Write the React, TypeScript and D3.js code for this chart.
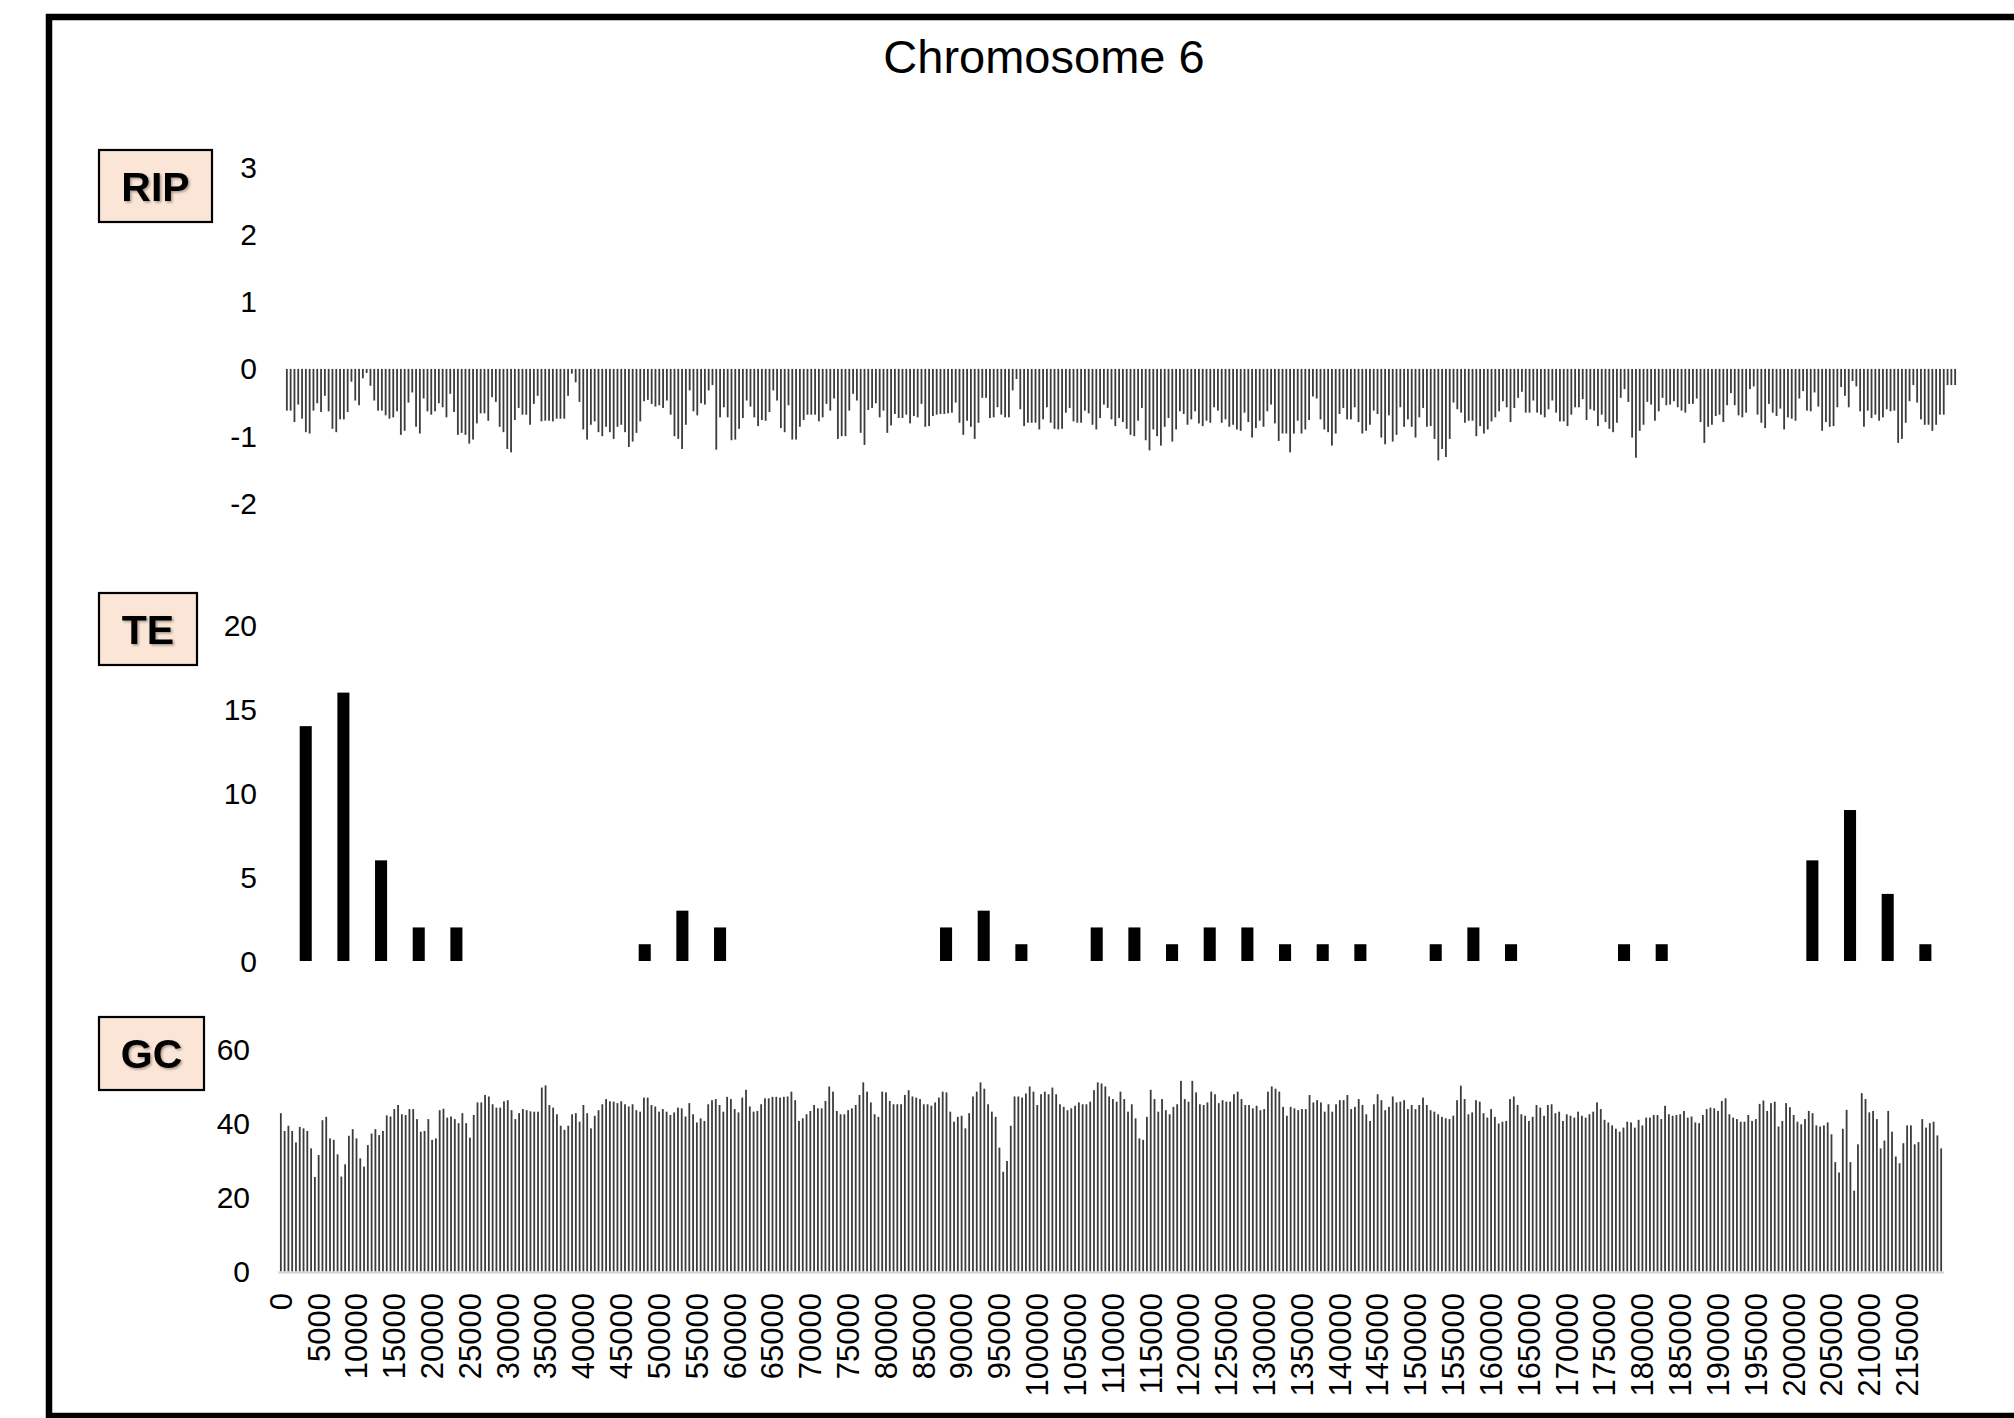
import React from 'react';
import * as d3 from 'd3';

// ---- DATA ----
const chartTitle = 'Chromosome 6';
const panelNames = ['RIP', 'TE', 'GC'];
const windowSize = 500; // bp per RIP / GC window
const teBinSize = 5000; // bp per TE bin

const ripTicks = [3, 2, 1, 0, -1, -2];
const teTicks = [0, 5, 10, 15, 20];
const gcTicks = [0, 20, 40, 60];

const ripPart1 = [
  -0.62,-0.62,-0.79,-0.53,-0.74,-0.94,-0.96,-0.62,-0.51,-0.64,
  -0.40,-0.63,-0.89,-0.94,-0.75,-0.75,-0.64,-0.19,-0.47,-0.54,
  -0.14,-0.06,-0.25,-0.47,-0.62,-0.62,-0.69,-0.74,-0.72,-0.63,
  -0.98,-0.92,-0.50,-0.35,-0.86,-0.96,-0.44,-0.63,-0.68,-0.63,
  -0.51,-0.57,-0.72,-0.37,-0.64,-0.98,-0.95,-0.98,-1.11,-1.05,
  -0.81,-0.66,-0.66,-0.77,-0.42,-0.49,-0.86,-0.94,-1.19,-1.24,
  -0.76,-0.58,-0.68,-0.68,-0.83,-0.52,-0.40,-0.78,-0.77,-0.77,
  -0.78,-0.74,-0.74,-0.74,-0.40,-0.07,-0.20,-0.49,-0.90,-1.05,
  -0.83,-0.78,-0.94,-1.00,-0.86,-0.94,-1.04,-0.86,-0.83,-0.94,
  -1.16,-1.08,-0.95,-0.78,-0.48,-0.46,-0.52,-0.56,-0.54,-0.58,
  -0.47,-0.68,-1.00,-1.04,-1.19,-0.83,-0.32,-0.63,-0.69,-0.51,
  -0.53,-0.32,-0.24,-1.20,-0.72,-0.57,-0.72,-1.06,-1.05,-0.89,
  -0.73,-0.47,-0.56,-0.72,-0.85,-0.76,-0.77,-0.64,-0.32,-0.47,
  -0.88,-0.94,-0.54,-1.05,-1.05,-0.86,-0.76,-0.68,-0.68,-0.68,
  -0.78,-0.72,-0.52,-0.62,-0.44,-1.04,-1.00,-1.00,-0.62,-0.37,
  -0.47,-0.95,-1.13,-0.61,-0.58,-0.51,-0.72,-0.62,-0.95,-0.84,
  -0.67,-0.73,-0.73,-0.68,-0.81,-0.70,-0.72,-0.52,-0.86,-0.85,
  -0.70,-0.68,-0.67,-0.67,-0.66,
];
const ripPart2 = [
  -0.65,-0.50,-0.80,-0.98,-0.77,-0.86,-1.04,-0.80,-0.43,
  -0.43,-0.73,-0.72,-0.57,-0.68,-0.72,-0.72,-0.32,-0.15,-0.60,
  -0.85,-0.80,-0.80,-0.80,-0.90,-0.75,-0.57,-0.80,-0.89,-0.90,
  -0.89,-0.65,-0.58,-0.78,-0.80,-0.80,-0.62,-0.66,-0.83,-0.90,
  -0.73,-0.53,-0.58,-0.75,-0.85,-0.73,-0.79,-0.89,-0.98,-1.00,
  -0.77,-0.58,-1.06,-1.21,-0.90,-1.00,-1.14,-0.86,-0.73,-1.08,
  -0.90,-0.63,-0.67,-0.83,-0.75,-0.63,-0.81,-0.85,-0.77,-0.80,
  -0.57,-0.62,-0.80,-0.75,-0.86,-0.83,-0.90,-0.92,-0.65,-0.79,
  -1.02,-0.88,-0.77,-0.86,-0.63,-0.53,-0.81,-1.07,-0.96,-0.96,
  -1.24,-0.96,-0.77,-0.96,-0.90,-0.76,-0.41,-0.44,-0.75,-0.90,
  -0.94,-1.14,-0.96,-0.67,-0.58,-0.75,-0.75,-0.57,-0.79,-0.96,
  -0.92,-0.83,-0.62,-0.67,-1.02,-1.12,-0.69,-1.08,-0.98,-0.57,
  -0.86,-0.75,-0.86,-1.02,-0.72,-0.58,-0.86,-0.85,-1.04,-1.36,
  -1.19,-1.31,-1.04,-0.50,-0.60,-0.65,-0.80,-0.77,-0.77,-1.00,
  -0.85,-0.96,-0.90,-0.78,-0.72,-0.63,-0.48,-0.57,-0.79,-0.58,
  -0.43,-0.34,-0.65,-0.65,-0.47,-0.65,-0.68,-0.72,-0.60,-0.47,
  -0.65,-0.78,-0.78,-0.85,-0.68,-0.57,-0.57,-0.45,-0.76,-0.60,
  -0.62,-0.85,-0.68,-0.79,-0.89,-0.94,-0.80,-0.43,-0.30,-0.49,
  -1.02,-1.32,-0.92,-0.83,-0.49,
];
const ripPart3 = [
  -0.53,-0.77,-0.63,-0.43,-0.54,-0.53,-0.48,-0.57,-0.62,
  -0.65,-0.52,-0.52,-0.44,-0.79,-1.10,-0.86,-0.83,-0.70,-0.68,
  -0.79,-0.54,-0.36,-0.54,-0.69,-0.72,-0.65,-0.30,-0.26,-0.68,
  -0.80,-0.88,-0.52,-0.65,-0.70,-0.59,-0.90,-0.72,-0.74,-0.77,
  -0.44,-0.33,-0.62,-0.63,-0.35,-0.56,-0.92,-0.79,-0.86,-0.85,
  -0.57,-0.27,-0.40,-0.57,-0.18,-0.26,-0.63,-0.86,-0.62,-0.73,
  -0.68,-0.77,-0.72,-0.60,-0.63,-0.62,-1.10,-1.04,-0.80,-0.48,
  -0.24,-0.50,-0.75,-0.83,-0.83,-0.92,-0.83,-0.68,-0.68,-0.24,
  -0.24,-0.24,
];

const teCounts = [
  14, 16, 6, 2, 2, 0, 0, 0, 0, 1,
  3, 2, 0, 0, 0, 0, 0, 2, 3, 1,
  0, 2, 2, 1, 2, 2, 1, 1, 1, 0,
  1, 2, 1, 0, 0, 1, 1, 0, 0, 0,
  6, 9, 4, 1,
];

const gcPart1 = [
  42.7,37.9,39.3,37.9,34.8,39.0,38.6,37.9,33.2,25.5,
  31.4,40.8,41.7,35.9,35.5,31.6,25.6,28.9,36.6,38.4,
  35.9,30.5,28.3,34.1,37.2,38.4,36.8,37.9,42.1,41.8,
  43.8,44.9,42.4,42.2,43.8,43.8,41.1,37.7,37.9,41.1,
  35.5,35.9,43.5,43.9,41.5,41.8,41.1,40.0,42.7,40.0,
  36.1,42.2,45.6,45.6,47.6,47.2,45.1,44.2,44.2,45.9,
  46.2,43.5,41.1,42.7,43.8,43.5,43.2,43.1,43.1,49.6,
  50.2,44.9,44.2,42.4,39.3,38.2,39.3,42.4,42.7,40.4,
  44.9,42.7,38.6,42.0,43.5,45.1,46.5,45.9,45.8,45.4,
  45.9,45.1,44.5,45.1,43.5,43.1,46.9,46.9,44.9,44.5,
  43.1,43.8,43.1,42.2,42.9,44.2,44.0,41.8,45.4,42.4,
  40.2,41.3,40.6,45.1,46.2,46.5,44.9,43.1,47.1,46.5,
  43.8,42.9,46.9,49.0,44.5,43.1,43.3,45.1,46.7,46.7,
  47.1,47.1,46.9,47.1,47.2,48.5,46.2,40.6,41.3,42.4,
  43.3,44.9,44.0,44.0,46.0,49.9,48.5,43.3,42.4,42.4,
  43.5,44.0,44.9,47.6,51.0,48.5,45.6,42.4,41.7,48.5,
  48.3,46.0,45.1,45.1,
];
const gcPart2 = [
  45.1,47.6,48.9,47.2,46.9,46.5,45.1,45.1,44.7,45.6,
  46.9,48.5,48.3,43.1,40.4,41.7,42.0,38.6,42.7,47.2,
  48.5,51.0,49.3,45.1,43.1,41.7,33.4,26.9,29.8,39.3,
  47.2,47.2,46.9,48.0,49.9,48.5,44.9,47.8,48.5,47.8,
  49.6,47.8,45.1,44.4,43.5,44.0,44.7,45.6,45.1,45.1,
  45.8,48.9,51.0,50.7,49.9,47.2,46.5,45.8,48.5,46.5,
  43.1,45.1,41.3,35.9,35.5,41.7,49.0,46.5,43.1,46.5,
  43.5,42.4,44.4,45.1,51.4,46.5,45.8,51.4,48.3,45.1,
  44.9,45.6,48.5,47.8,45.4,46.2,45.8,45.8,47.8,48.5,
  46.5,44.9,44.9,44.0,44.7,43.5,43.8,48.5,49.9,49.3,
  48.5,44.4,42.0,44.4,44.0,43.5,43.8,43.8,47.6,45.6,
  46.2,45.6,43.1,45.1,43.1,45.1,46.2,46.2,47.6,43.8,
  44.4,46.5,44.9,42.4,40.6,45.1,47.8,46.2,43.5,44.4,
  47.2,45.6,45.8,46.2,43.8,44.9,43.8,44.9,46.9,44.9,
  43.5,43.1,42.4,41.7,41.3,41.1,42.0,46.2,50.1,46.5,
  42.4,42.9,46.2,45.8,42.7,41.5,43.8,41.7,39.9,40.4,
  40.6,46.5,47.2,44.9,42.4,42.0,40.6,41.7,44.9,44.2,
  42.0,44.9,45.1,42.7,43.1,40.6,42.4,42.0,41.5,43.1,
  42.0,41.5,42.4,43.1,45.6,
];
const gcPart3 = [
  43.8,40.9,40.2,39.4,38.5,37.7,38.8,40.4,40.2,38.8,
  40.9,39.4,41.5,41.5,42.2,42.2,41.1,44.7,42.4,42.0,
  42.2,42.4,43.3,41.5,41.8,40.2,40.0,42.2,43.8,44.2,
  44.0,43.3,46.0,46.7,42.4,41.5,41.1,40.4,40.4,42.2,
  40.6,41.1,45.2,46.1,43.3,45.4,45.8,39.1,40.6,45.4,
  44.3,42.2,40.4,39.7,41.1,43.3,42.7,39.4,39.1,39.4,
  40.2,37.0,29.5,26.7,38.5,43.6,29.5,21.8,34.3,48.1,
  46.5,42.9,43.3,41.1,33.2,35.3,43.3,37.7,31.0,29.2,
  34.6,39.4,39.4,34.3,34.9,41.1,38.8,40.0,40.4,36.7,
  33.2,
];

const ripValues = [...ripPart1, ...ripPart2, ...ripPart3];
const gcValues = [...gcPart1, ...gcPart2, ...gcPart3];

const FONT = '"Liberation Sans", Arial, "DejaVu Sans", sans-serif';

export default function App() {
  const W = 2014;
  const H = 1418;

  // RIP panel
  const xRip = d3
    .scaleBand<number>()
    .domain(d3.range(ripValues.length))
    .range([284, 1958])
    .padding(0.5);
  const yRip = d3.scaleLinear().domain([-2, 3]).range([503.5, 167]);

  // TE panel
  const xTe = d3
    .scaleBand<number>()
    .domain(d3.range(teCounts.length))
    .range([286.9, 1944.2])
    .paddingInner(0.68)
    .paddingOuter(0.34);
  const yTe = d3.scaleLinear().domain([0, 20]).range([961, 625.5]);

  // GC panel
  const xGc = d3
    .scaleBand<number>()
    .domain(d3.range(gcValues.length))
    .range([278, 1944])
    .padding(0.5);
  const yGc = d3.scaleLinear().domain([0, 60]).range([1271.5, 1049]);

  const labelStep = teBinSize / windowSize;
  const xLabelIdx = d3.range(0, gcValues.length - 9, labelStep);

  const barW = 1.8;
  const barColor = '#3c3c3c';
  const tickFont = 30;

  const boxes = [
    { name: panelNames[0], x: 99, y: 150, w: 113, h: 72 },
    { name: panelNames[1], x: 99, y: 593, w: 98, h: 72 },
    { name: panelNames[2], x: 99, y: 1017, w: 105, h: 73 },
  ];

  return (
    <svg
      width={W}
      height={H}
      viewBox={`0 0 ${W} ${H}`}
      style={{ position: 'absolute', left: 0, top: 0, background: '#fff' }}
      fontFamily={FONT}
    >
      <defs>
        <filter id="txtShadow" x="-20%" y="-20%" width="140%" height="140%">
          <feDropShadow dx="1.5" dy="1.5" stdDeviation="1.2" floodColor="#000" floodOpacity="0.35" />
        </filter>
      </defs>
      <rect x={0} y={0} width={W} height={H} fill="#fff" />
      {/* outer frame */}
      <rect x={49} y={17} width={2100} height={1399} fill="none" stroke="#000" strokeWidth={6.5} />

      {/* title */}
      <text x={1044} y={73} textAnchor="middle" fontSize={47} fill="#000">
        {chartTitle}
      </text>

      {/* label boxes */}
      {boxes.map((b) => (
        <g key={b.name}>
          <rect x={b.x} y={b.y} width={b.w} height={b.h} fill="#FBE5D6" stroke="#000" strokeWidth={2.2} />
          <text
            x={b.x + b.w / 2}
            y={b.y + b.h / 2}
            dy="0.36em"
            textAnchor="middle"
            fontWeight="bold"
            fontSize={41}
            fill="#000"
            filter="url(#txtShadow)"
          >
            {b.name}
          </text>
        </g>
      ))}

      {/* RIP */}
      {ripTicks.map((t) => (
        <text key={'rt' + t} x={257} y={yRip(t)} dy="0.35em" textAnchor="end" fontSize={tickFont} fill="#000">
          {t}
        </text>
      ))}
      {ripValues.map((v, i) => {
        const cx = (xRip(i) as number) + xRip.bandwidth() / 2;
        const y0 = yRip(0);
        const y1 = yRip(v);
        return (
          <rect key={'r' + i} x={cx - barW / 2} y={Math.min(y0, y1)} width={barW} height={Math.abs(y1 - y0)} fill={barColor} />
        );
      })}

      {/* TE */}
      {teTicks.map((t) => (
        <text key={'tt' + t} x={257} y={yTe(t)} dy="0.35em" textAnchor="end" fontSize={tickFont} fill="#000">
          {t}
        </text>
      ))}
      {teCounts.map((v, i) =>
        v > 0 ? (
          <rect
            key={'t' + i}
            x={xTe(i) as number}
            y={yTe(v)}
            width={xTe.bandwidth()}
            height={yTe(0) - yTe(v)}
            fill="#000"
          />
        ) : null
      )}

      {/* GC */}
      {gcTicks.map((t) => (
        <text key={'gt' + t} x={250} y={yGc(t)} dy="0.35em" textAnchor="end" fontSize={tickFont} fill="#000">
          {t}
        </text>
      ))}
      {gcValues.map((v, i) => {
        const cx = (xGc(i) as number) + xGc.bandwidth() / 2;
        return (
          <rect key={'g' + i} x={cx - barW / 2} y={yGc(v)} width={barW} height={yGc(0) - yGc(v)} fill={barColor} />
        );
      })}
      <line x1={278} x2={1944} y1={yGc(0) + 1} y2={yGc(0) + 1} stroke="#d4d4d4" strokeWidth={2} />
      {xLabelIdx.map((i) => {
        const cx = (xGc(i) as number) + xGc.bandwidth() / 2;
        return (
          <text
            key={'xl' + i}
            transform={`translate(${cx},1293) rotate(-90)`}
            dy="0.35em"
            textAnchor="end"
            fontSize={31}
            fill="#000"
          >
            {i * windowSize}
          </text>
        );
      })}
    </svg>
  );
}
